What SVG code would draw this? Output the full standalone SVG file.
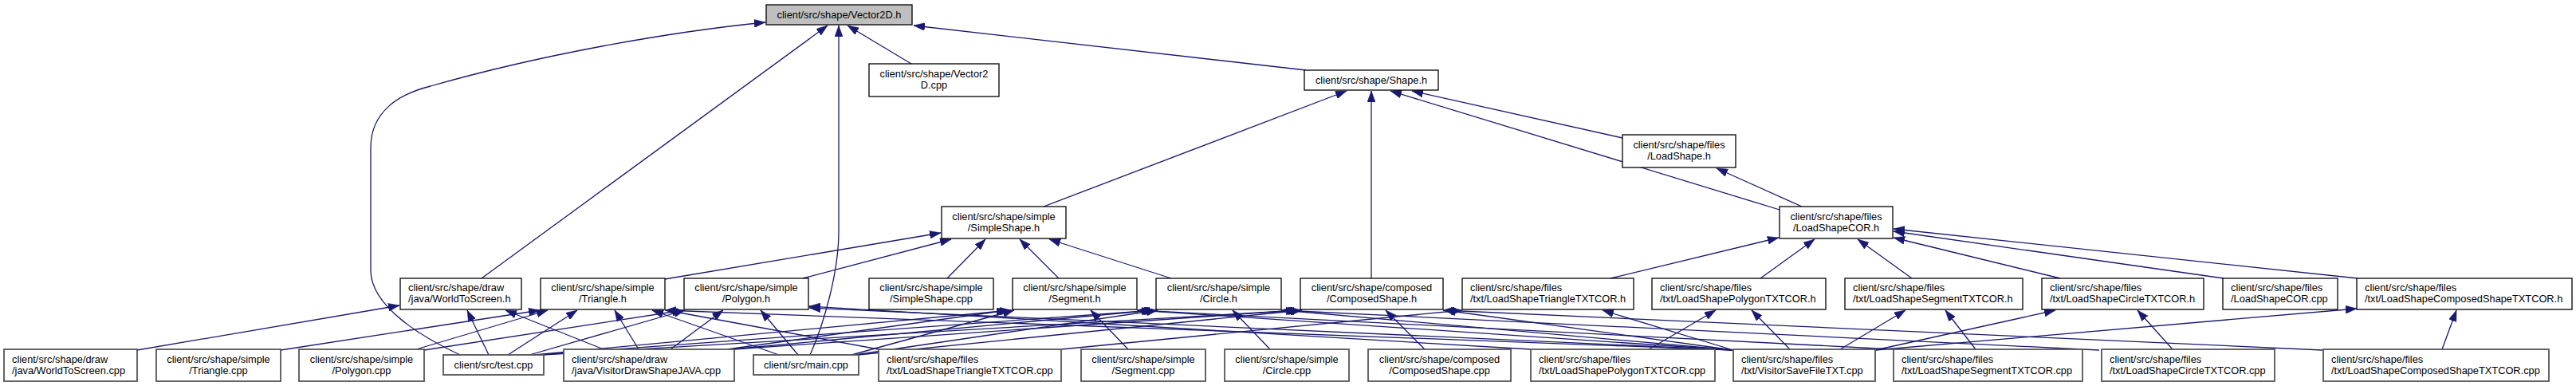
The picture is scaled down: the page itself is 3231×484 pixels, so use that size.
<svg xmlns="http://www.w3.org/2000/svg" width="3231" height="484" viewBox="0 0 3231 484">
<defs>
<style>
.n rect{fill:#ffffff;stroke:#000000;stroke-width:1.3}
.leaf rect{stroke:#555555;stroke-width:1.8}
.root rect{fill:#bfbfbf}
text{font-family:"Liberation Sans",Arial,sans-serif;font-size:12.8px;fill:#000000}
.c{text-anchor:middle}
.l{text-anchor:start}
#edges path{fill:none;stroke:#191970;stroke-width:1.3;marker-end:url(#ah)}
</style>
<marker id="ah" markerUnits="userSpaceOnUse" markerWidth="14" markerHeight="10" refX="14" refY="5" orient="auto">
<path d="M0,0 L14,5 L0,10 z" fill="#191970" stroke="#191970" stroke-width="0.5"/>
</marker>
</defs>
<rect x="0" y="0" width="3231" height="484" fill="#ffffff"/>
<g id="edges">
<path d="M1143,80 L1063,32"/>
<path d="M1638,88 L1146,32"/>
<path d="M604,349 L1038,32"/>
<path d="M577,445 C530,423 466,385 465,340 L465,185 C465,140 500,118 540,108 C680,68 840,40 960,28"/>
<path d="M1016,445 C1034,405 1052,340 1052,290 L1052,32"/>
<path d="M1309,259 L1689,114"/>
<path d="M1720,349 L1720,114"/>
<path d="M2035,173 L1771,114"/>
<path d="M2232,263 L1744,114"/>
<path d="M2260,259 L2153,211"/>
<path d="M834,350 L1180,292"/>
<path d="M1007,349 L1193,300"/>
<path d="M1188,349 L1236,300"/>
<path d="M1328,349 L1279,300"/>
<path d="M1469,349 L1316,300"/>
<path d="M2020,349 L2231,298"/>
<path d="M2208,349 L2276,300"/>
<path d="M2398,349 L2330,300"/>
<path d="M2584,349 L2375,298"/>
<path d="M2789,349 L2375,290"/>
<path d="M2957,349 L2375,287"/>
<path d="M172,439 L501,383"/>
<path d="M352,439 L677,389"/>
<path d="M522,438 L687,389"/>
<path d="M532,439 L857,389"/>
<path d="M613,445 L586,389"/>
<path d="M637,445 L724,389"/>
<path d="M664,445 L859,389"/>
<path d="M670,445 L1268,389"/>
<path d="M675,445 L1449,389"/>
<path d="M680,445 L1630,389"/>
<path d="M757,438 L634,389"/>
<path d="M801,438 L771,389"/>
<path d="M841,438 L907,389"/>
<path d="M912,438 L1264,389"/>
<path d="M916,438 L1446,389"/>
<path d="M920,438 L1627,389"/>
<path d="M977,445 L818,389"/>
<path d="M1001,445 L954,389"/>
<path d="M1068,445 L1272,389"/>
<path d="M1072,445 L1452,389"/>
<path d="M1076,445 L1633,389"/>
<path d="M1102,438 L836,389"/>
<path d="M1331,438 L1834,389"/>
<path d="M1415,438 L1368,389"/>
<path d="M1593,438 L1546,389"/>
<path d="M1787,438 L1738,389"/>
<path d="M1920,438 L1015,384"/>
<path d="M2068,438 L2152,389"/>
<path d="M2174,439 L834,389"/>
<path d="M2174,439 L1015,386"/>
<path d="M2174,439 L1428,389"/>
<path d="M2174,439 L1609,389"/>
<path d="M2174,439 L1812,389"/>
<path d="M2174,439 L2010,389"/>
<path d="M2245,438 L2197,389"/>
<path d="M2308,438 L2390,389"/>
<path d="M2352,439 L2578,389"/>
<path d="M2352,439 L2956,387"/>
<path d="M2375,438 L1426,389"/>
<path d="M2478,438 L2440,389"/>
<path d="M2633,439 L1607,389"/>
<path d="M2725,438 L2681,389"/>
<path d="M2913,439 L1810,389"/>
<path d="M3063,438 L3081,389"/>
</g>
<g id="n_vector2d_h" class="n root"><rect x="961" y="6" width="183" height="25"/><text class="c" x="1052.5" y="22.8">client/src/shape/Vector2D.h</text></g>
<g id="n_vector2d_cpp" class="n"><rect x="1090" y="80" width="163" height="41"/><text class="c" x="1171.5" y="97.2">client/src/shape/Vector2</text><text class="c" x="1171.5" y="111.4">D.cpp</text></g>
<g id="n_shape_h" class="n"><rect x="1636" y="88" width="168" height="25"/><text class="c" x="1720" y="104.8">client/src/shape/Shape.h</text></g>
<g id="n_loadshape_h" class="n"><rect x="2035" y="169" width="142" height="41"/><text class="c" x="2106" y="186.2">client/src/shape/files</text><text class="c" x="2106" y="200.4">/LoadShape.h</text></g>
<g id="n_simpleshape_h" class="n"><rect x="1181" y="259" width="156" height="40"/><text class="c" x="1259" y="275.7">client/src/shape/simple</text><text class="c" x="1259" y="289.9">/SimpleShape.h</text></g>
<g id="n_loadshapecor_h" class="n"><rect x="2232" y="259" width="142" height="40"/><text class="c" x="2303" y="275.7">client/src/shape/files</text><text class="c" x="2303" y="289.9">/LoadShapeCOR.h</text></g>
<g id="n_worldtoscreen_h" class="n"><rect x="502" y="349" width="152" height="39"/><text class="l" x="512" y="365.2">client/src/shape/draw</text><text class="l" x="512" y="379.4">/java/WorldToScreen.h</text></g>
<g id="n_triangle_h" class="n"><rect x="678" y="349" width="156" height="39"/><text class="c" x="756" y="365.2">client/src/shape/simple</text><text class="c" x="756" y="379.4">/Triangle.h</text></g>
<g id="n_polygon_h" class="n"><rect x="858" y="349" width="156" height="39"/><text class="c" x="936" y="365.2">client/src/shape/simple</text><text class="c" x="936" y="379.4">/Polygon.h</text></g>
<g id="n_simpleshape_cpp" class="n"><rect x="1090" y="349" width="156" height="39"/><text class="c" x="1168" y="365.2">client/src/shape/simple</text><text class="c" x="1168" y="379.4">/SimpleShape.cpp</text></g>
<g id="n_segment_h" class="n"><rect x="1270" y="349" width="156" height="39"/><text class="c" x="1348" y="365.2">client/src/shape/simple</text><text class="c" x="1348" y="379.4">/Segment.h</text></g>
<g id="n_circle_h" class="n"><rect x="1450" y="349" width="157" height="39"/><text class="c" x="1528.5" y="365.2">client/src/shape/simple</text><text class="c" x="1528.5" y="379.4">/Circle.h</text></g>
<g id="n_composedshape_h" class="n"><rect x="1631" y="349" width="179" height="39"/><text class="c" x="1720.5" y="365.2">client/src/shape/composed</text><text class="c" x="1720.5" y="379.4">/ComposedShape.h</text></g>
<g id="n_lstri_h" class="n"><rect x="1834" y="349" width="215" height="39"/><text class="l" x="1844" y="365.2">client/src/shape/files</text><text class="l" x="1844" y="379.4">/txt/LoadShapeTriangleTXTCOR.h</text></g>
<g id="n_lspoly_h" class="n"><rect x="2072" y="349" width="218" height="39"/><text class="l" x="2082" y="365.2">client/src/shape/files</text><text class="l" x="2082" y="379.4">/txt/LoadShapePolygonTXTCOR.h</text></g>
<g id="n_lsseg_h" class="n"><rect x="2314" y="349" width="223" height="39"/><text class="l" x="2324" y="365.2">client/src/shape/files</text><text class="l" x="2324" y="379.4">/txt/LoadShapeSegmentTXTCOR.h</text></g>
<g id="n_lscirc_h" class="n"><rect x="2561" y="349" width="203" height="39"/><text class="l" x="2571" y="365.2">client/src/shape/files</text><text class="l" x="2571" y="379.4">/txt/LoadShapeCircleTXTCOR.h</text></g>
<g id="n_loadshapecor_cpp" class="n"><rect x="2788" y="349" width="144" height="39"/><text class="l" x="2798" y="365.2">client/src/shape/files</text><text class="l" x="2798" y="379.4">/LoadShapeCOR.cpp</text></g>
<g id="n_lscomp_h" class="n"><rect x="2956" y="349" width="270" height="39"/><text class="l" x="2966" y="365.2">client/src/shape/files</text><text class="l" x="2966" y="379.4">/txt/LoadShapeComposedShapeTXTCOR.h</text></g>
<g id="n_worldtoscreen_cpp" class="n leaf"><rect x="5" y="438" width="167" height="40"/><text class="l" x="15" y="454.7">client/src/shape/draw</text><text class="l" x="15" y="468.9">/java/WorldToScreen.cpp</text></g>
<g id="n_triangle_cpp" class="n leaf"><rect x="196" y="438" width="156" height="40"/><text class="c" x="274" y="454.7">client/src/shape/simple</text><text class="c" x="274" y="468.9">/Triangle.cpp</text></g>
<g id="n_polygon_cpp" class="n leaf"><rect x="375" y="438" width="157" height="40"/><text class="c" x="453.5" y="454.7">client/src/shape/simple</text><text class="c" x="453.5" y="468.9">/Polygon.cpp</text></g>
<g id="n_test_cpp" class="n leaf"><rect x="556" y="445" width="126" height="25"/><text class="c" x="619" y="461.8">client/src/test.cpp</text></g>
<g id="n_visitordraw_cpp" class="n leaf"><rect x="707" y="438" width="214" height="40"/><text class="l" x="717" y="454.7">client/src/shape/draw</text><text class="l" x="717" y="468.9">/java/VisitorDrawShapeJAVA.cpp</text></g>
<g id="n_main_cpp" class="n leaf"><rect x="945" y="445" width="132" height="25"/><text class="c" x="1011" y="461.8">client/src/main.cpp</text></g>
<g id="n_lstri_cpp" class="n leaf"><rect x="1102" y="438" width="229" height="40"/><text class="l" x="1112" y="454.7">client/src/shape/files</text><text class="l" x="1112" y="468.9">/txt/LoadShapeTriangleTXTCOR.cpp</text></g>
<g id="n_segment_cpp" class="n leaf"><rect x="1356" y="438" width="156" height="40"/><text class="c" x="1434" y="454.7">client/src/shape/simple</text><text class="c" x="1434" y="468.9">/Segment.cpp</text></g>
<g id="n_circle_cpp" class="n leaf"><rect x="1536" y="438" width="156" height="40"/><text class="c" x="1614" y="454.7">client/src/shape/simple</text><text class="c" x="1614" y="468.9">/Circle.cpp</text></g>
<g id="n_composedshape_cpp" class="n leaf"><rect x="1716" y="438" width="179" height="40"/><text class="c" x="1805.5" y="454.7">client/src/shape/composed</text><text class="c" x="1805.5" y="468.9">/ComposedShape.cpp</text></g>
<g id="n_lspoly_cpp" class="n leaf"><rect x="1920" y="438" width="231" height="40"/><text class="l" x="1930" y="454.7">client/src/shape/files</text><text class="l" x="1930" y="468.9">/txt/LoadShapePolygonTXTCOR.cpp</text></g>
<g id="n_visitorsave_cpp" class="n leaf"><rect x="2174" y="438" width="178" height="40"/><text class="l" x="2184" y="454.7">client/src/shape/files</text><text class="l" x="2184" y="468.9">/txt/VisitorSaveFileTXT.cpp</text></g>
<g id="n_lsseg_cpp" class="n leaf"><rect x="2375" y="438" width="237" height="40"/><text class="l" x="2385" y="454.7">client/src/shape/files</text><text class="l" x="2385" y="468.9">/txt/LoadShapeSegmentTXTCOR.cpp</text></g>
<g id="n_lscirc_cpp" class="n leaf"><rect x="2636" y="438" width="217" height="40"/><text class="l" x="2646" y="454.7">client/src/shape/files</text><text class="l" x="2646" y="468.9">/txt/LoadShapeCircleTXTCOR.cpp</text></g>
<g id="n_lscomp_cpp" class="n leaf"><rect x="2914" y="438" width="283" height="40"/><text class="l" x="2924" y="454.7">client/src/shape/files</text><text class="l" x="2924" y="468.9">/txt/LoadShapeComposedShapeTXTCOR.cpp</text></g>
</svg>
